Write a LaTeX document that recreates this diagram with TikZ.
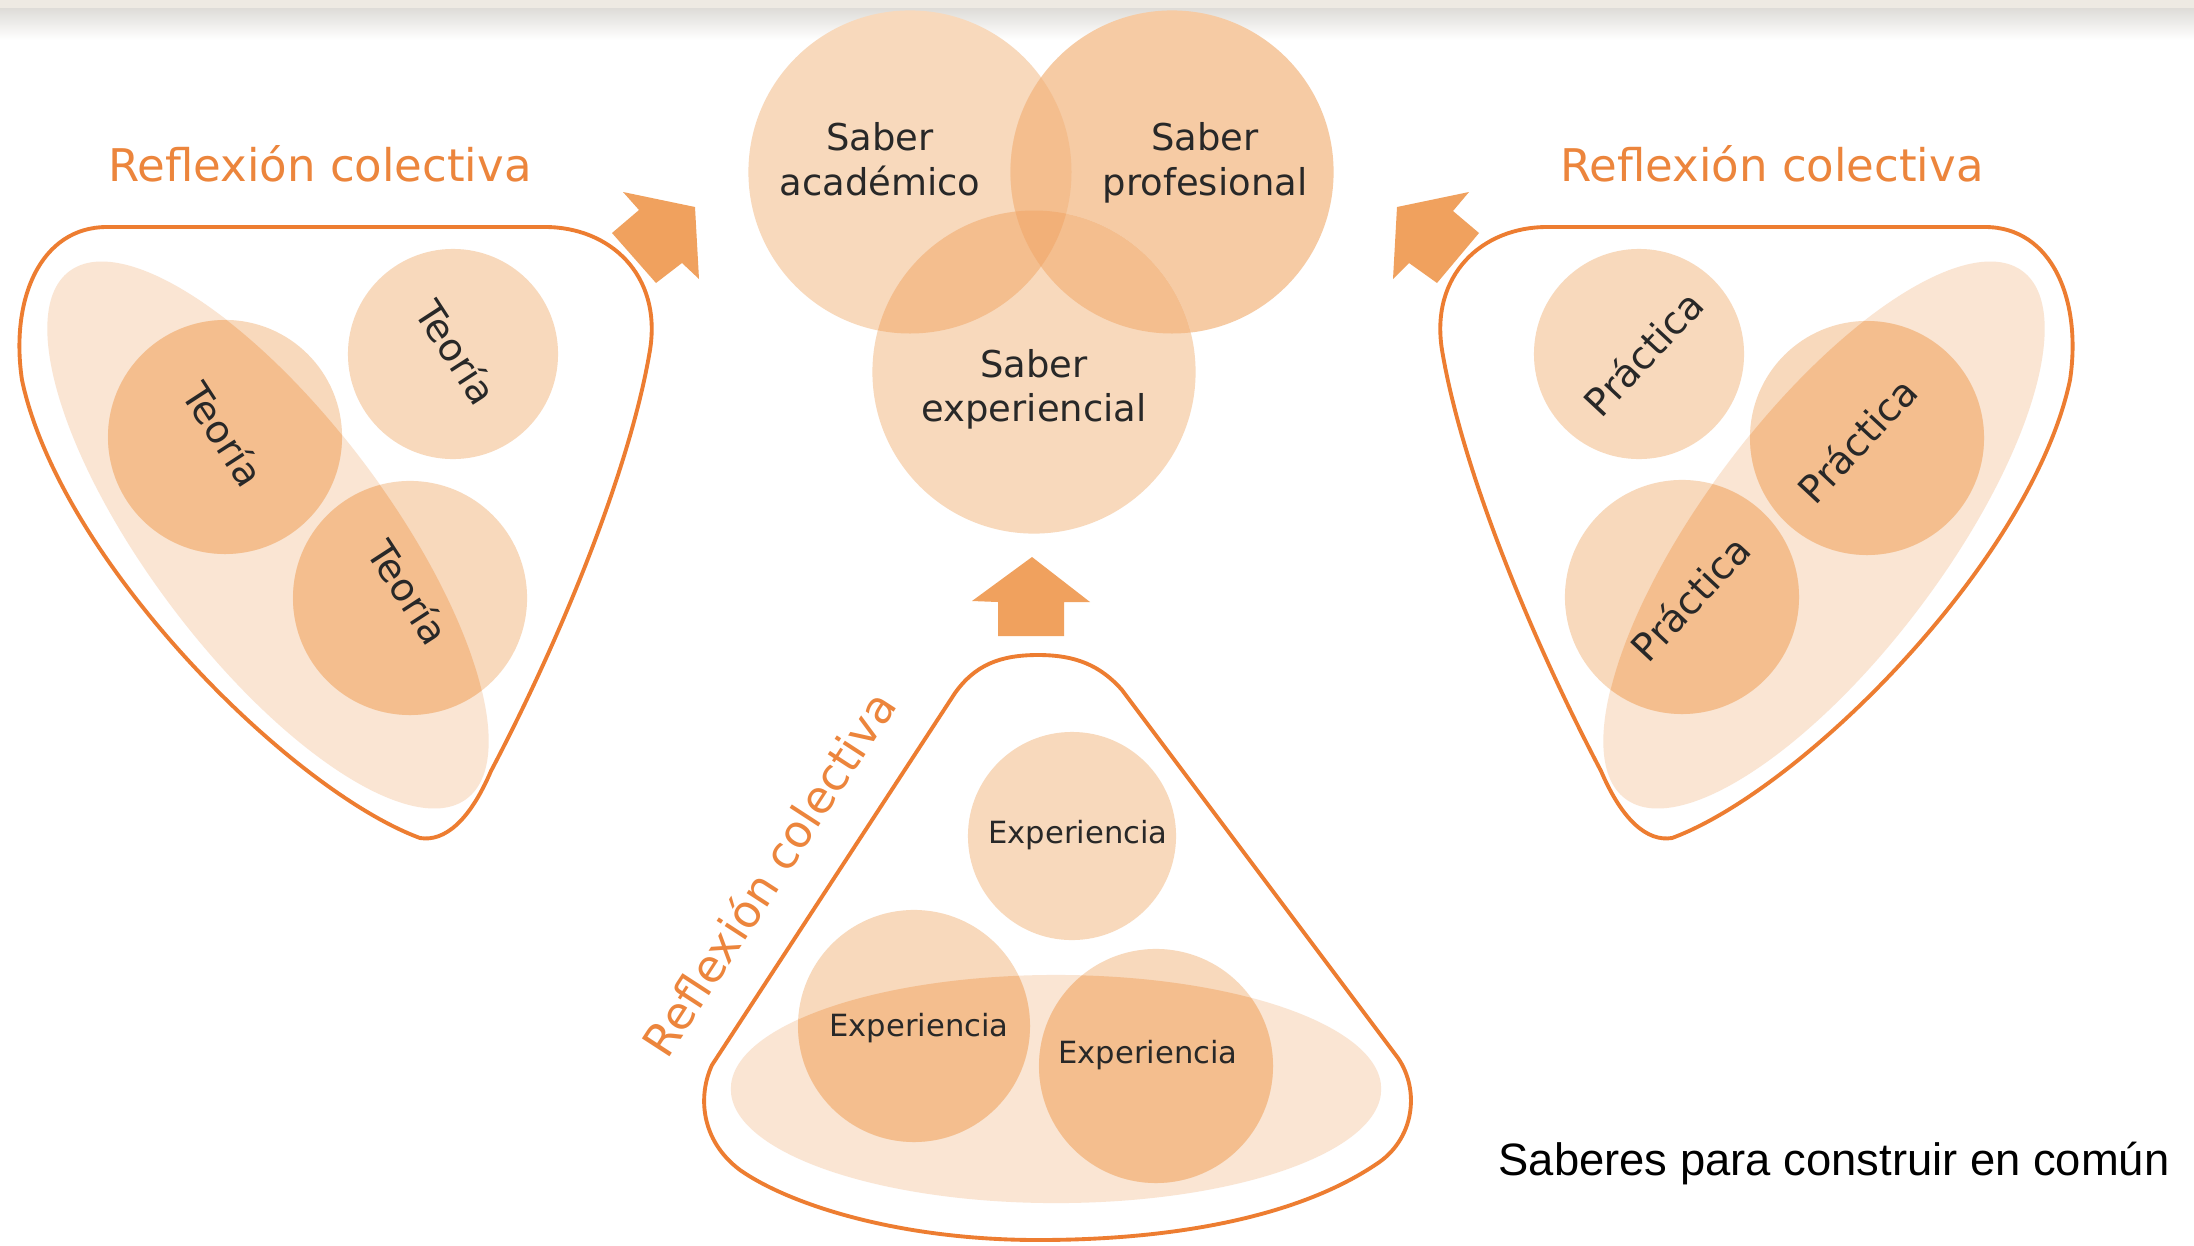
\documentclass[tikz,border=0pt]{standalone}
\usepackage{fontspec}
\setmainfont{DejaVu Sans}
\newfontfamily\capfamily{Liberation Sans}
\usetikzlibrary{shapes.geometric}
\definecolor{lightc}{RGB}{248,217,188}
\definecolor{profc}{RGB}{246,203,164}
\definecolor{ellc}{RGB}{250,229,211}
\definecolor{ovlc}{RGB}{244,190,142}
\definecolor{tripc}{RGB}{242,176,120}
\definecolor{orl}{RGB}{237,125,49}
\definecolor{orltxt}{RGB}{236,133,60}
\definecolor{arrc}{RGB}{240,161,94}
\definecolor{txt}{RGB}{40,40,40}
\definecolor{band}{RGB}{238,234,227}
\definecolor{shad}{RGB}{222,220,216}
\newcommand\fsab{\fontsize{10.5pt}{12pt}\selectfont}
\newcommand\frefl{\fontsize{12.8pt}{14pt}\selectfont}
\newcommand\fteo{\fontsize{10.9pt}{12pt}\selectfont}
\newcommand\fexpr{\fontsize{8.7pt}{10pt}\selectfont}
\newcommand\fcap{\capfamily\fontsize{12.9pt}{14pt}\selectfont}
\begin{document}
\begin{tikzpicture}[x=0.01cm,y=-0.01cm,
  vc/.style={circle, draw=none, fill=lightc, inner sep=0pt, outer sep=0pt},
  vell/.style={ellipse, draw=none, fill=ellc, inner sep=0pt, outer sep=0pt},
  outl/.style={draw=orl, line width=1.1pt, line join=round},
  blockarrow/.style={fill=arrc, draw=none},
  sab/.style={text=txt, font=\fsab, inner sep=0pt, anchor=base},
  refl/.style={text=orltxt, font=\frefl, inner sep=0pt},
  teo/.style={text=txt, font=\fteo, inner sep=0pt},
  expr/.style={text=txt, font=\fexpr, inner sep=0pt}]
\useasboundingbox (0,0) rectangle (2194,1245);
\fill[white] (0,0) rectangle (2194,1245);
\fill[band] (0,0) rectangle (2194,8);
\shade[top color=shad, bottom color=white] (0,8) rectangle (2194,40);

% ---------- central Venn ----------
\node[vc, minimum size=3.23cm] (acad) at (910,172) {};
\node[vc, minimum size=3.23cm, fill=profc] (prof) at (1172,172) {};
\node[vc, minimum size=3.23cm] (expe) at (1034,372) {};
\begin{scope}
  \clip (acad.center) circle[radius=161.5];
  \fill[ovlc] (prof.center) circle[radius=161.5];
  \fill[ovlc] (expe.center) circle[radius=161.5];
\end{scope}
\begin{scope}
  \clip (prof.center) circle[radius=161.5];
  \fill[ovlc] (expe.center) circle[radius=161.5];
\end{scope}
\begin{scope}
  \clip (acad.center) circle[radius=161.5];
  \clip (prof.center) circle[radius=161.5];
  \fill[tripc] (expe.center) circle[radius=161.5];
\end{scope}
\node[sab] (tacad1) at (880,150) {Saber};
\node[sab] (tacad2) at (880,195) {académico};
\node[sab] (tprof1) at (1205,150) {Saber};
\node[sab] (tprof2) at (1205,195) {profesional};
\node[sab] (texpe1) at (1034,377) {Saber};
\node[sab] (texpe2) at (1034,421) {experiencial};

% ---------- arrows ----------
\fill[blockarrow] (612,233) -- (639,210) -- (623,192) -- (695,207) -- (699,279) -- (682,263) -- (656,283) -- cycle;
\fill[blockarrow] (1479,233) -- (1453,211) -- (1469,192) -- (1397,207) -- (1393,279) -- (1409,263) -- (1437,283) -- cycle;
\fill[blockarrow] (998,636) -- (998,602) -- (972,601) -- (1032,557) -- (1090,602) -- (1064,602) -- (1064,636) -- cycle;

% ---------- left group (Teoria) ----------
\node[refl, anchor=base] (rlL) at (320,181) {Reflexión colectiva};
\draw[outl] (107,227) -- (545,227) .. controls (610,227) and (662,275) .. (650,350)
  .. controls (630,470) and (560,640) .. (491,771)
  .. controls (470,820) and (445,842) .. (420,838)
  .. controls (290,790) and (60,560) .. (22,380)
  .. controls (10,300) and (40,227) .. (107,227) -- cycle;
\node[vell, minimum width=6.6cm, minimum height=2.4cm, rotate=-53] (ellL) at (268,535) {};
\node[vc, minimum size=2.10cm] (cL1) at (453,354) {};
\node[vc, minimum size=2.34cm] (cL2) at (225,437) {};
\node[vc, minimum size=2.34cm] (cL3) at (410,598) {};
\begin{scope}
  \clip[rotate around={-53:(ellL.center)}] (ellL.center) ellipse[x radius=330, y radius=120];
  \fill[ovlc] (cL2.center) circle[radius=117];
  \fill[ovlc] (cL3.center) circle[radius=117];
\end{scope}
\node[teo, rotate=-57] (tL1) at (457,352) {Teoría};
\node[teo, rotate=-57] (tL2) at (224,434) {Teoría};
\node[teo, rotate=-57] (tL3) at (409,592) {Teoría};

% ---------- right group (Practica) ----------
\node[refl, anchor=base] (rlR) at (1772,181) {Reflexión colectiva};
\draw[outl] (1985,227) -- (1547,227) .. controls (1482,227) and (1430,275) .. (1442,350)
  .. controls (1462,470) and (1532,640) .. (1601,771)
  .. controls (1622,820) and (1647,842) .. (1672,838)
  .. controls (1802,790) and (2032,560) .. (2070,380)
  .. controls (2082,300) and (2052,227) .. (1985,227) -- cycle;
\node[vell, minimum width=6.6cm, minimum height=2.4cm, rotate=53] (ellR) at (1824,535) {};
\node[vc, minimum size=2.10cm] (cR1) at (1639,354) {};
\node[vc, minimum size=2.34cm] (cR2) at (1867,438) {};
\node[vc, minimum size=2.34cm] (cR3) at (1682,597) {};
\begin{scope}
  \clip[rotate around={53:(ellR.center)}] (ellR.center) ellipse[x radius=330, y radius=120];
  \fill[ovlc] (cR2.center) circle[radius=117];
  \fill[ovlc] (cR3.center) circle[radius=117];
\end{scope}
\node[teo, rotate=47] (tR1) at (1643,353) {Práctica};
\node[teo, rotate=47] (tR2) at (1857,440) {Práctica};
\node[teo, rotate=47] (tR3) at (1690,598) {Práctica};

% ---------- bottom group (Experiencia) ----------
\draw[outl] (1038,655) .. controls (1075,655) and (1100,665) .. (1122,690) -- (1398,1058)
  .. controls (1420,1090) and (1415,1140) .. (1375,1165)
  .. controls (1300,1215) and (1180,1240) .. (1038,1240)
  .. controls (900,1240) and (790,1205) .. (740,1170)
  .. controls (700,1140) and (698,1095) .. (712,1065)
  -- (955,693)
  .. controls (975,665) and (1000,655) .. (1038,655) -- cycle;
\node[vell, minimum width=6.5cm, minimum height=2.28cm] (ellB) at (1056,1089) {};
\node[vc, minimum size=2.08cm] (cB1) at (1072,836) {};
\node[vc, minimum size=2.32cm] (cB2) at (914,1026) {};
\node[vc, minimum size=2.34cm] (cB3) at (1156,1066) {};
\begin{scope}
  \clip (ellB.center) ellipse[x radius=325, y radius=114];
  \fill[ovlc] (cB2.center) circle[radius=116];
  \fill[ovlc] (cB3.center) circle[radius=117];
\end{scope}
\node[expr] (tB1) at (1078,835) {Experiencia};
\node[expr] (tB2) at (919,1028) {Experiencia};
\node[expr] (tB3) at (1148,1055) {Experiencia};
\node[refl, rotate=57] (rlB) at (768,873) {Reflexión colectiva};

% ---------- caption ----------
\node[font=\fcap, text=black, anchor=base west, inner sep=0pt] (cap) at (1498,1175) {Saberes para construir en común};
\end{tikzpicture}
\end{document}
